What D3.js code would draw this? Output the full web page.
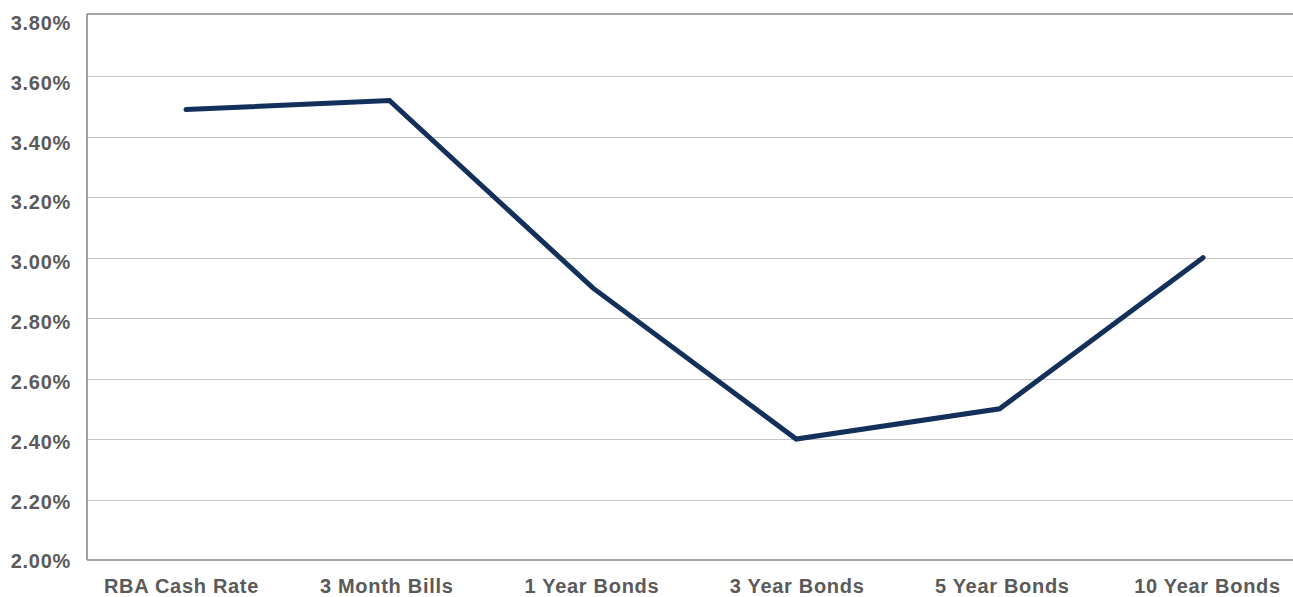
<!DOCTYPE html>
<html>
<head>
<meta charset="utf-8">
<script src="https://cdn.jsdelivr.net/npm/d3@7"></script>
<style>
html,body{margin:0;padding:0;background:#fff;}
svg{display:block;}
</style>
</head>
<body>
<svg id="chart" width="1293" height="597"></svg>
<script>
const categories = ["RBA Cash Rate","3 Month Bills","1 Year Bonds","3 Year Bonds","5 Year Bonds","10 Year Bonds"];
const values = [3.49, 3.52, 2.90, 2.40, 2.50, 3.00];
const yTicks = [2.0, 2.2, 2.4, 2.6, 2.8, 3.0, 3.2, 3.4, 3.6, 3.8];

(function(){
const svg = d3.select("#chart");
const W = 1293;
const plotLeft = 87, plotTop = 14, plotBottom = 560;

const y = d3.scaleLinear().domain([2.0, 3.8]).range([560, 15.8]);
const yLab = d3.scaleLinear().domain([2.0, 3.8]).range([561.5, 23]);
const x = d3.scalePoint().domain(categories).range([186, 1203]);
const xLab = d3.scalePoint().domain(categories).range([181, 1207]);

// gridlines
svg.append("g")
  .selectAll("line")
  .data(yTicks.filter(t => t > 2.0 && t < 3.8))
  .join("line")
  .attr("x1", plotLeft).attr("x2", W)
  .attr("y1", d => Math.round(y(d)) + 0.5).attr("y2", d => Math.round(y(d)) + 0.5)
  .attr("stroke", "#c6c6c6").attr("stroke-width", 1.2);

// frame
svg.append("line").attr("x1", plotLeft).attr("x2", W).attr("y1", plotTop).attr("y2", plotTop)
  .attr("stroke", "#8a8a8a").attr("stroke-width", 1.6);
svg.append("line").attr("x1", plotLeft).attr("x2", W).attr("y1", plotBottom).attr("y2", plotBottom)
  .attr("stroke", "#8a8a8a").attr("stroke-width", 1.6);
svg.append("line").attr("x1", plotLeft).attr("x2", plotLeft).attr("y1", plotTop).attr("y2", plotBottom)
  .attr("stroke", "#8a8a8a").attr("stroke-width", 1.6);

// y axis labels
const yAxis = d3.axisLeft(yLab).tickValues(yTicks).tickSize(0).tickPadding(0)
  .tickFormat(d => d3.format(".2f")(d) + "%");
const gy = svg.append("g").attr("transform", "translate(71,0)").call(yAxis);
gy.select(".domain").remove();
gy.selectAll("text")
  .attr("fill", "#5a5a5a")
  .style("font-family", "'Liberation Sans', Arial, Helvetica, sans-serif")
  .style("font-weight", "bold")
  .style("font-size", "20px")
  .style("letter-spacing", "0.7px");

// x axis labels
const xAxis = d3.axisBottom(xLab).tickSize(0).tickPadding(0);
const gx = svg.append("g").attr("transform", "translate(0,578.5)").call(xAxis);
gx.select(".domain").remove();
gx.selectAll("text")
  .attr("fill", "#5a5a5a")
  .style("font-family", "'Liberation Sans', Arial, Helvetica, sans-serif")
  .style("font-weight", "bold")
  .style("font-size", "20px")
  .style("letter-spacing", "0.7px");

// line
const line = d3.line().x((d, i) => x(categories[i])).y(d => y(d));
svg.append("path")
  .datum(values)
  .attr("d", line)
  .attr("fill", "none")
  .attr("stroke", "#12305a")
  .attr("stroke-width", 5)
  .attr("stroke-linejoin", "miter")
  .attr("stroke-linecap", "round");
})();
</script>
</body>
</html>
